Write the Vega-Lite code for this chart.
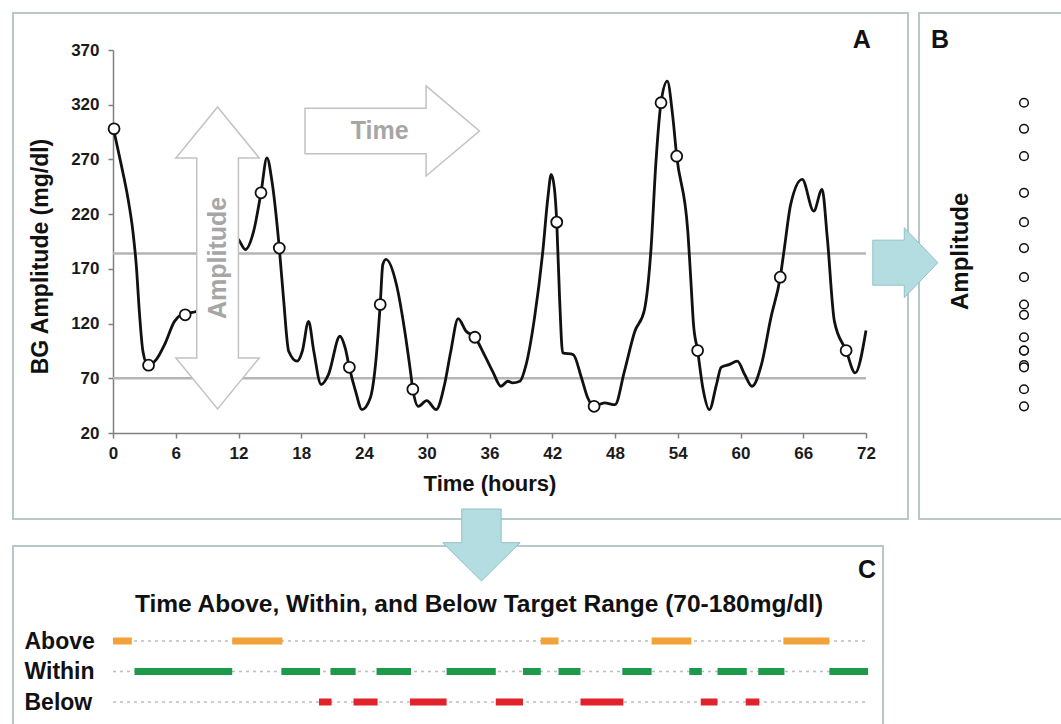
{
  "$schema": "https://vega.github.io/schema/vega-lite/v6.json",
  "padding": {"left": 12, "top": 12, "right": 0, "bottom": 0},
  "background": "white",
  "config": {
    "view": {"stroke": "#b7c8c8", "strokeWidth": 2},
    "font": "Liberation Sans"
  },
  "datasets": {
    "curve": [
      {"h":0,"v":300},{"h":0.78,"v":265.5},{"h":1.42,"v":235},{"h":1.9,"v":204.5},{"h":2.22,"v":174},{"h":2.54,"v":128.3},{"h":2.86,"v":94.7},{"h":3.33,"v":82},{"h":4.13,"v":87},{"h":4.93,"v":100.8},{"h":5.88,"v":122},{"h":6.52,"v":128},{"h":7.4,"v":130},{"h":7.95,"v":131},{"h":9.5,"v":150},{"h":11,"v":185},{"h":11.85,"v":197.8},{"h":12.65,"v":187.7},{"h":13.45,"v":204.5},{"h":14.15,"v":239.5},{"h":14.72,"v":271.5},{"h":15.2,"v":250},{"h":15.9,"v":189},{"h":16.3,"v":143.5},{"h":16.8,"v":94.7},{"h":17.6,"v":85.6},{"h":18.1,"v":94.7},{"h":18.7,"v":122},{"h":19.2,"v":94.7},{"h":19.9,"v":64.3},{"h":20.6,"v":73.4},{"h":21.7,"v":108.4},{"h":22.2,"v":97.7},{"h":22.6,"v":80},{"h":23.2,"v":58},{"h":23.8,"v":41.4},{"h":24.6,"v":52},{"h":25.1,"v":82.5},{"h":25.55,"v":137.4},{"h":25.8,"v":174},{"h":26.1,"v":178.6},{"h":27.1,"v":155.7},{"h":27.9,"v":113},{"h":28.4,"v":79.4},{"h":28.67,"v":60},{"h":29.2,"v":44.4},{"h":30,"v":49.6},{"h":30.9,"v":41.4},{"h":31.7,"v":64.3},{"h":32.3,"v":94.7},{"h":33,"v":124.6},{"h":33.76,"v":113},{"h":34.6,"v":107.5},{"h":35.5,"v":91.7},{"h":36.3,"v":76.4},{"h":37.1,"v":62.7},{"h":37.75,"v":67.3},{"h":38.2,"v":65.8},{"h":38.9,"v":67.3},{"h":39.5,"v":82.5},{"h":40.3,"v":125},{"h":41.1,"v":186.2},{"h":41.58,"v":235},{"h":41.9,"v":256.3},{"h":42.2,"v":244},{"h":42.43,"v":212.7},{"h":42.7,"v":143.5},{"h":43,"v":93.2},{"h":44,"v":91.7},{"h":44.8,"v":70.3},{"h":45.4,"v":52},{"h":46,"v":44.4},{"h":47,"v":47.5},{"h":48,"v":45.9},{"h":48.9,"v":76.4},{"h":49.9,"v":113},{"h":50.8,"v":132},{"h":51.45,"v":189.2},{"h":51.9,"v":265.5},{"h":52.4,"v":321.8},{"h":53,"v":341.6},{"h":53.5,"v":311.2},{"h":53.9,"v":273},{"h":54.96,"v":204.5},{"h":55.25,"v":160},{"h":55.5,"v":120},{"h":55.9,"v":95.3},{"h":56.4,"v":61.2},{"h":57.03,"v":41.4},{"h":57.7,"v":64.3},{"h":58.15,"v":80},{"h":58.9,"v":82.5},{"h":59.7,"v":85.6},{"h":60.4,"v":73.4},{"h":61.1,"v":62.7},{"h":62,"v":82.5},{"h":62.9,"v":125},{"h":63.8,"v":162.4},{"h":64.2,"v":189.2},{"h":64.8,"v":228.9},{"h":65.9,"v":251.7},{"h":67,"v":222.8},{"h":67.8,"v":242.6},{"h":68.3,"v":198.3},{"h":68.98,"v":122},{"h":70.1,"v":95.3},{"h":70.96,"v":74.9},{"h":72,"v":113.7}
    ],
    "readings": [
      {"h":0.1,"v":298},{"h":3.4,"v":82},{"h":6.9,"v":128},{"h":14.15,"v":239.5},{"h":15.9,"v":189},{"h":22.6,"v":80},{"h":25.55,"v":137.4},{"h":28.67,"v":60},{"h":34.6,"v":107.5},{"h":42.43,"v":212.7},{"h":46,"v":44.4},{"h":52.4,"v":321.8},{"h":53.9,"v":273},{"h":55.9,"v":95.3},{"h":63.8,"v":162.4},{"h":70.1,"v":95.3}
    ],
    "thresholds": [{"v":70},{"v":184}],
    "rows": [{"row":"Above"},{"row":"Within"},{"row":"Below"}],
    "ranges": [
      {"row":"Above","start":0,"end":1.8},{"row":"Above","start":11.4,"end":16.2},{"row":"Above","start":40.9,"end":42.6},{"row":"Above","start":51.5,"end":55.3},{"row":"Above","start":64.1,"end":68.5},
      {"row":"Within","start":2.06,"end":11.4},{"row":"Within","start":16.1,"end":19.8},{"row":"Within","start":20.8,"end":23.2},{"row":"Within","start":25.2,"end":28.5},{"row":"Within","start":31.9,"end":36.6},{"row":"Within","start":39.2,"end":40.9},{"row":"Within","start":42.6,"end":44.7},{"row":"Within","start":48.7,"end":51.5},{"row":"Within","start":55.1,"end":56.3},{"row":"Within","start":57.8,"end":60.6},{"row":"Within","start":61.7,"end":64.2},{"row":"Within","start":68.5,"end":72.2},
      {"row":"Below","start":19.7,"end":20.9},{"row":"Below","start":23,"end":25.3},{"row":"Below","start":28.4,"end":31.9},{"row":"Below","start":36.6,"end":39.2},{"row":"Below","start":44.7,"end":48.8},{"row":"Below","start":56.2,"end":57.8},{"row":"Below","start":60.5,"end":61.8}
    ]
  },
  "columns": 2,
  "align": "each",
  "bounds": "flush",
  "spacing": {"row": 27, "column": 11},
  "concat": [
    {
      "width": 895,
      "height": 506,
      "layer": [
        {
          "data": {"name": "thresholds"},
          "mark": {"type": "rule", "color": "#b5b5b5", "strokeWidth": 2.5},
          "encoding": {
            "x": {"datum": 0, "type": "quantitative", "scale": {"domain": [0, 72], "range": [100, 853], "nice": false, "zero": false}},
            "x2": {"datum": 72},
            "y": {"field": "v", "type": "quantitative", "scale": {"domain": [20, 370], "range": [420, 37], "nice": false, "zero": false}}
          }
        },
        {
          "data": {"name": "curve"},
          "mark": {"type": "line", "interpolate": "monotone", "color": "#111111", "strokeWidth": 2.8},
          "encoding": {
            "x": {"field": "h", "type": "quantitative", "scale": {"domain": [0, 72], "range": [100, 853], "nice": false, "zero": false},
              "axis": {"title": "Time (hours)", "values": [0,6,12,18,24,30,36,42,48,54,60,66,72], "offset": -86, "grid": false,
                "domainColor": "#808080", "domainWidth": 1.5, "tickColor": "#808080", "tickWidth": 1.5, "tickSize": 5,
                "labelFontSize": 17, "labelFontWeight": "bold", "labelColor": "#1a1a1a", "labelPadding": 7, "labelFlush": false, "labelOverlap": false,
                "titleFontSize": 22, "titleFontWeight": "bold", "titleColor": "#111111", "titlePadding": 12}},
            "y": {"field": "v", "type": "quantitative", "scale": {"domain": [20, 370], "range": [420, 37], "nice": false, "zero": false},
              "axis": {"title": "BG Amplitude (mg/dl)", "values": [20,70,120,170,220,270,320,370], "offset": -100, "grid": false,
                "domainColor": "#808080", "domainWidth": 1.5, "tickColor": "#808080", "tickWidth": 1.5, "tickSize": 5,
                "labelFontSize": 17, "labelFontWeight": "bold", "labelColor": "#1a1a1a", "labelPadding": 9, "labelFlush": false, "labelOverlap": false,
                "titleFontSize": 23, "titleFontWeight": "bold", "titleColor": "#111111", "titleX": -73, "titleY": 243, "titleBaseline": "middle", "titleAngle": 270}}
          }
        },
        {
          "data": {"name": "readings"},
          "mark": {"type": "point", "shape": "circle", "filled": true, "fill": "white", "stroke": "#111111", "strokeWidth": 1.8, "size": 120, "opacity": 1},
          "encoding": {
            "x": {"field": "h", "type": "quantitative", "scale": {"domain": [0, 72], "range": [100, 853], "nice": false, "zero": false}},
            "y": {"field": "v", "type": "quantitative", "scale": {"domain": [20, 370], "range": [420, 37], "nice": false, "zero": false}}
          }
        },
        {
          "data": {"values": [{}]},
          "mark": {"type": "point", "shape": "M0,-1L0.276,-0.662L0.138,-0.662L0.138,0.662L0.276,0.662L0,1L-0.276,0.662L-0.138,0.662L-0.138,-0.662L-0.276,-0.662Z", "size": 91204, "filled": true, "fill": "white", "stroke": "#c2c2c2", "strokeWidth": 1.5, "opacity": 1},
          "encoding": {
            "x": {"datum": 10, "type": "quantitative", "scale": {"domain": [0, 72], "range": [100, 853], "nice": false, "zero": false}},
            "y": {"datum": 180, "type": "quantitative", "scale": {"domain": [20, 370], "range": [420, 37], "nice": false, "zero": false}}
          }
        },
        {
          "data": {"values": [{}]},
          "mark": {"type": "point", "shape": "M-1,-0.26L0.388,-0.26L0.388,-0.516L1,0L0.388,0.516L0.388,0.26L-1,0.26Z", "size": 30415, "filled": true, "fill": "white", "stroke": "#c2c2c2", "strokeWidth": 1.5, "opacity": 1},
          "encoding": {
            "x": {"datum": 26.7, "type": "quantitative", "scale": {"domain": [0, 72], "range": [100, 853], "nice": false, "zero": false}},
            "y": {"datum": 296, "type": "quantitative", "scale": {"domain": [20, 370], "range": [420, 37], "nice": false, "zero": false}}
          }
        },
        {
          "data": {"values": [{}]},
          "mark": {"type": "text", "text": "Amplitude", "angle": 270, "fontSize": 25, "fontWeight": "bold", "fill": "#a6a6a6", "align": "center", "baseline": "middle"},
          "encoding": {
            "x": {"datum": 10, "type": "quantitative", "scale": {"domain": [0, 72], "range": [100, 853], "nice": false, "zero": false}},
            "y": {"datum": 180, "type": "quantitative", "scale": {"domain": [20, 370], "range": [420, 37], "nice": false, "zero": false}}
          }
        },
        {
          "data": {"values": [{}]},
          "mark": {"type": "text", "text": "Time", "fontSize": 25, "fontWeight": "bold", "fill": "#a6a6a6", "align": "center", "baseline": "middle"},
          "encoding": {
            "x": {"datum": 25.5, "type": "quantitative", "scale": {"domain": [0, 72], "range": [100, 853], "nice": false, "zero": false}},
            "y": {"datum": 296, "type": "quantitative", "scale": {"domain": [20, 370], "range": [420, 37], "nice": false, "zero": false}}
          }
        },
        {
          "data": {"values": [{}]},
          "mark": {"type": "text", "text": "A", "fontSize": 25, "fontWeight": "bold", "fill": "#111111", "align": "center", "baseline": "alphabetic"},
          "encoding": {
            "x": {"datum": 71.6, "type": "quantitative", "scale": {"domain": [0, 72], "range": [100, 853], "nice": false, "zero": false}},
            "y": {"datum": 371.8, "type": "quantitative", "scale": {"domain": [20, 370], "range": [420, 37], "nice": false, "zero": false}}
          }
        }
      ]
    },
    {
      "width": 160,
      "height": 506,
      "layer": [
        {
          "data": {"name": "readings"},
          "mark": {"type": "point", "shape": "circle", "filled": true, "fill": "white", "stroke": "#111111", "strokeWidth": 1.5, "size": 75, "opacity": 1},
          "encoding": {
            "x": {"datum": 0, "type": "quantitative", "scale": {"domain": [-1, 1], "range": [0, 210], "nice": false, "zero": false}, "axis": null},
            "y": {"field": "v", "type": "quantitative", "scale": {"domain": [20, 370], "range": [420, 37], "nice": false, "zero": false}, "axis": null}
          }
        },
        {
          "data": {"values": [{}]},
          "mark": {"type": "text", "text": "B", "fontSize": 25, "fontWeight": "bold", "fill": "#111111", "align": "center", "baseline": "alphabetic"},
          "encoding": {
            "x": {"datum": -0.8, "type": "quantitative", "scale": {"domain": [-1, 1], "range": [0, 210], "nice": false, "zero": false}, "axis": null},
            "y": {"datum": 371.8, "type": "quantitative", "scale": {"domain": [20, 370], "range": [420, 37], "nice": false, "zero": false}, "axis": null}
          }
        },
        {
          "data": {"values": [{}]},
          "mark": {"type": "text", "text": "Amplitude", "angle": 270, "fontSize": 24, "fontWeight": "bold", "fill": "#111111", "align": "center", "baseline": "middle"},
          "encoding": {
            "x": {"datum": -0.6, "type": "quantitative", "scale": {"domain": [-1, 1], "range": [0, 210], "nice": false, "zero": false}, "axis": null},
            "y": {"datum": 186, "type": "quantitative", "scale": {"domain": [20, 370], "range": [420, 37], "nice": false, "zero": false}, "axis": null}
          }
        }
      ]
    },
    {
      "width": 870,
      "height": 200,
      "resolve": {"scale": {"y": "independent"}, "axis": {"y": "independent"}},
      "layer": [
        {
          "layer": [
            {
              "data": {"name": "rows"},
              "mark": {"type": "rule", "color": "#bdbdbd", "strokeWidth": 1.5, "strokeDash": [3, 4]},
              "encoding": {
                "x": {"datum": 0, "type": "quantitative", "scale": {"domain": [0, 72], "range": [100, 853], "nice": false, "zero": false}, "axis": null},
                "x2": {"datum": 72},
                "y": {"field": "row", "type": "nominal", "sort": null, "scale": {"type": "point", "domain": ["Above", "Within", "Below"], "range": [95, 156], "padding": 0},
                  "axis": {"title": null, "offset": -11, "domain": false, "ticks": false, "tickSize": 0, "labelPadding": 0, "labelAlign": "left", "labelBaseline": "middle", "labelFontSize": 23, "labelFontWeight": "bold", "labelColor": "#111111"}}
              }
            },
            {
              "data": {"name": "ranges"},
              "mark": {"type": "rule", "strokeWidth": 7, "strokeCap": "butt"},
              "encoding": {
                "x": {"field": "start", "type": "quantitative", "scale": {"domain": [0, 72], "range": [100, 853], "nice": false, "zero": false}, "axis": null},
                "x2": {"field": "end"},
                "y": {"field": "row", "type": "nominal", "sort": null, "scale": {"type": "point", "domain": ["Above", "Within", "Below"], "range": [95, 156], "padding": 0}},
                "color": {"field": "row", "type": "nominal", "scale": {"domain": ["Above", "Within", "Below"], "range": ["#f2a23a", "#1c9a4a", "#e2222b"]}, "legend": null}
              }
            }
          ]
        },
        {
          "layer": [
            {
              "data": {"values": [{}]},
              "mark": {"type": "point", "shape": "M-0.929,-0.643L-0.03,-0.643L-0.03,-1L0.929,0L-0.03,1L-0.03,0.643L-0.929,0.643Z", "size": 4900, "filled": true, "fill": "#b3dde1", "stroke": "#8fc2c7", "strokeWidth": 1, "opacity": 1},
              "encoding": {
                "x": {"datum": 75.76, "type": "quantitative", "scale": {"domain": [0, 72], "range": [100, 853], "nice": false, "zero": false}, "axis": null},
                "y": {"datum": 175.5, "type": "quantitative", "scale": {"domain": [20, 370], "range": [-113.3, -496], "nice": false, "zero": false}, "axis": null}
              }
            },
            {
              "data": {"values": [{}]},
              "mark": {"type": "point", "shape": "M-0.509,-0.93L0.509,-0.93L0.509,-0.06L1,-0.06L0,0.93L-1,-0.06L-0.509,-0.06Z", "size": 5991, "filled": true, "fill": "#b3dde1", "stroke": "#8fc2c7", "strokeWidth": 1, "opacity": 1},
              "encoding": {
                "x": {"datum": 35.23, "type": "quantitative", "scale": {"domain": [0, 72], "range": [100, 853], "nice": false, "zero": false}, "axis": null},
                "y": {"datum": -82.7, "type": "quantitative", "scale": {"domain": [20, 370], "range": [-113.3, -496], "nice": false, "zero": false}, "axis": null}
              }
            },
            {
              "data": {"values": [{}]},
              "mark": {"type": "text", "text": "Time Above, Within, and Below Target Range (70-180mg/dl)", "fontSize": 24.5, "fontWeight": "bold", "fill": "#111111", "align": "center", "baseline": "alphabetic"},
              "encoding": {
                "x": {"datum": 35.0, "type": "quantitative", "scale": {"domain": [0, 72], "range": [100, 853], "nice": false, "zero": false}, "axis": null},
                "y": {"datum": -144, "type": "quantitative", "scale": {"domain": [20, 370], "range": [-113.3, -496], "nice": false, "zero": false}, "axis": null}
              }
            },
            {
              "data": {"values": [{}]},
              "mark": {"type": "text", "text": "C", "fontSize": 25, "fontWeight": "bold", "fill": "#111111", "align": "center", "baseline": "alphabetic"},
              "encoding": {
                "x": {"datum": 72.1, "type": "quantitative", "scale": {"domain": [0, 72], "range": [100, 853], "nice": false, "zero": false}, "axis": null},
                "y": {"datum": -112.9, "type": "quantitative", "scale": {"domain": [20, 370], "range": [-113.3, -496], "nice": false, "zero": false}, "axis": null}
              }
            }
          ]
        }
      ]
    }
  ]
}
